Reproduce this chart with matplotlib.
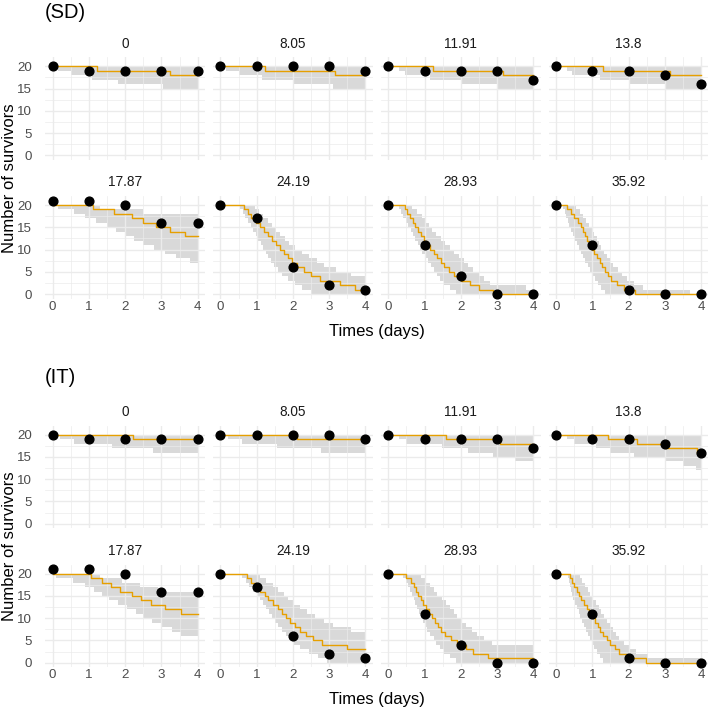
import numpy as np
import matplotlib
matplotlib.use('Agg')
import matplotlib.pyplot as plt

plt.rcParams['font.family'] = ['Liberation Sans', 'DejaVu Sans']

# concentrations (facet labels) and observed survivors at days 0..4
concs = ['0', '8.05', '11.91', '13.8', '17.87', '24.19', '28.93', '35.92']
days = [0, 1, 2, 3, 4]
observed = [
    [20, 19, 19, 19, 19],
    [20, 20, 20, 20, 19],
    [20, 19, 19, 19, 17],
    [20, 19, 19, 18, 16],
    [21, 21, 20, 16, 16],
    [20, 17, 6, 2, 1],
    [20, 11, 4, 0, 0],
    [20, 11, 1, 0, 0],
]

# predicted curves, given as the times (days) at which the count drops by one,
# starting from 20 survivors.  med = median, low/up = 95% band
sd_med = [
    [1.21, 3.24],
    [1.24, 3.17],
    [1.24, 3.17],
    [1.3, 3.14],
    [1.1, 1.7, 2.2, 2.5, 2.85, 3.25, 3.65],
    [0.65, 0.75, 0.85, 0.98, 1.08, 1.2, 1.3, 1.42, 1.52, 1.63, 1.75, 1.85,
     1.97, 2.12, 2.3, 2.5, 2.75, 3.3, 3.7],
    [0.45, 0.52, 0.6, 0.68, 0.75, 0.83, 0.9, 0.98, 1.07, 1.15, 1.25, 1.35,
     1.45, 1.55, 1.68, 1.82, 2.0, 2.25, 2.5, 2.9],
    [0.3, 0.4, 0.5, 0.6, 0.68, 0.74, 0.8, 0.86, 0.92, 0.98, 1.06, 1.13, 1.2,
     1.28, 1.36, 1.44, 1.52, 1.68, 1.88, 2.18],
]
sd_low = [
    [0.15, 0.5, 1.08, 1.8, 3.05],
    [0.15, 0.5, 1.15, 2.0, 3.1],
    [0.3, 0.45, 1.15, 2.0, 3.03],
    [0.3, 0.45, 1.2, 2.0, 3.0],
    [0.15, 0.6, 0.9, 1.2, 1.5, 1.75, 2.0, 2.25, 2.5, 2.8, 3.1, 3.4, 3.8],
    [0.55, 0.62, 0.69, 0.76, 0.83, 0.9, 0.97, 1.04, 1.11, 1.18, 1.25, 1.32,
     1.4, 1.48, 1.58, 1.7, 1.85, 2.05, 2.25, 2.5],
    [0.3, 0.36, 0.42, 0.49, 0.55, 0.62, 0.68, 0.74, 0.81, 0.87, 0.94, 1.02,
     1.1, 1.18, 1.26, 1.34, 1.42, 1.55, 1.7, 1.88],
    [0.2, 0.24, 0.28, 0.33, 0.37, 0.41, 0.46, 0.51, 0.57, 0.63, 0.69, 0.75,
     0.81, 0.87, 0.93, 1.0, 1.08, 1.16, 1.25, 1.35],
]
sd_up = [
    [], [], [], [],
    [1.3, 2.5],
    [0.95, 1.07, 1.18, 1.3, 1.42, 1.53, 1.65, 1.77, 1.9, 2.05, 2.25, 2.45,
     2.65, 2.85, 3.2, 3.6],
    [0.65, 0.78, 0.92, 1.02, 1.12, 1.22, 1.33, 1.45, 1.57, 1.7, 1.82, 1.95,
     2.08, 2.2, 2.35, 2.5, 2.65, 2.8, 3.8],
    [0.55, 0.65, 0.74, 0.83, 0.92, 1.0, 1.06, 1.12, 1.18, 1.25, 1.32, 1.4,
     1.48, 1.58, 1.7, 1.82, 1.97, 2.15, 2.4, 3.7],
]

it_med = [
    [2.22],
    [2.1],
    [1.6, 3.08],
    [1.44, 2.22, 3.0, 3.88],
    [1.05, 1.35, 1.6, 1.85, 2.2, 2.45, 2.7, 3.1, 3.55],
    [0.72, 0.85, 0.97, 1.1, 1.22, 1.32, 1.45, 1.58, 1.7, 1.8, 1.92, 2.05,
     2.2, 2.35, 2.55, 2.8, 3.5],
    [0.5, 0.62, 0.7, 0.77, 0.83, 0.9, 0.97, 1.05, 1.12, 1.2, 1.28, 1.37,
     1.45, 1.57, 1.72, 1.9, 2.15, 2.35, 2.75],
    [0.38, 0.45, 0.5, 0.57, 0.63, 0.7, 0.77, 0.85, 0.92, 1.0, 1.07, 1.15,
     1.22, 1.3, 1.4, 1.5, 1.62, 1.75, 1.95, 2.48],
]
it_low = [
    [0.2, 0.6, 1.63, 2.78],
    [0.2, 0.6, 1.56, 2.76],
    [0.3, 0.5, 1.47, 2.2, 2.9, 3.51],
    [0.3, 0.5, 1.1, 1.5, 2.15, 3.0, 3.5, 3.85],
    [0.1, 0.55, 0.9, 1.15, 1.35, 1.55, 1.8, 2.05, 2.3, 2.5, 2.75, 3.0, 3.3,
     3.55],
    [0.6, 0.7, 0.8, 0.9, 1.0, 1.1, 1.18, 1.27, 1.35, 1.42, 1.5, 1.6, 1.7,
     1.8, 1.9, 2.0, 2.2, 2.45, 2.7, 2.95],
    [0.42, 0.5, 0.55, 0.6, 0.65, 0.7, 0.75, 0.8, 0.85, 0.9, 0.95, 1.0, 1.07,
     1.15, 1.25, 1.32, 1.42, 1.55, 1.7, 1.88],
    [0.32, 0.35, 0.38, 0.41, 0.45, 0.48, 0.52, 0.57, 0.62, 0.67, 0.72, 0.78,
     0.83, 0.88, 0.94, 1.0, 1.05, 1.12, 1.2, 1.3],
]
it_up = [
    [], [], [], [],
    [1.3, 1.9, 2.4, 2.9],
    [1.1, 1.25, 1.45, 1.6, 1.75, 1.87, 2.0, 2.2, 2.4, 2.6, 2.85, 3.1, 3.6],
    [0.9, 1.05, 1.15, 1.25, 1.35, 1.47, 1.6, 1.7, 1.8, 1.9, 2.0, 2.15, 2.3,
     2.45, 2.65, 2.85],
    [0.65, 0.72, 0.8, 0.88, 0.95, 1.02, 1.1, 1.18, 1.25, 1.33, 1.4, 1.5,
     1.57, 1.65, 1.75, 1.87, 2.0, 2.2, 2.55],
]

blocks = [
    ('(SD)', sd_med, sd_low, sd_up, 12.5, [57.2, 195.9]),
    ('(IT)', it_med, it_low, it_up, 378.0, [425.6, 564.6]),
]

W, H = 709, 711
LEFT0, COLSTEP, PW, PH = 45.4, 167.8, 159.5, 102.8
ORANGE = '#E69F00'
BAND = '#D9D9D9'
GRID = '#EBEBEB'


def count_at(drops, t):
    return 20 - np.searchsorted(np.sort(drops), t, side='right')


fig = plt.figure(figsize=(W / 100, H / 100), dpi=100)


def fx(px):
    return px / W


def fy(py):
    return 1 - py / H


for title, med, low, up, title_y, row_tops in blocks:
    fig.text(fx(45), fy(title_y), title, fontsize=14.5, ha='left',
             va='center', color='black')
    for k, conc in enumerate(concs):
        row, col = divmod(k, 4)
        left = LEFT0 + COLSTEP * col
        top = row_tops[row]
        ax = fig.add_axes([fx(left), fy(top + PH), PW / W, PH / H])
        ax.set_xlim(-0.2, 4.2)
        ax.set_ylim(-1.05, 22.05)

        tgrid = np.array(sorted(set([0.0, 4.0] + low[k] + up[k])))
        lo = count_at(low[k], tgrid)
        hi = count_at(up[k], tgrid)
        ax.fill_between(tgrid, lo, hi, step='post', color=BAND, lw=0,
                        zorder=1)

        tm = np.array([0.0] + med[k] + [4.0])
        vm = count_at(med[k], tm)
        ax.step(tm, vm, where='post', color=ORANGE, lw=1.0, zorder=2)

        ax.plot(days, observed[k], 'o', color='black', ms=6.3, zorder=3,
                clip_on=False)

        ax.set_xticks(days)
        ax.set_xticks([0.5, 1.5, 2.5, 3.5], minor=True)
        ax.set_yticks([0, 5, 10, 15, 20])
        ax.set_yticks([2.5, 7.5, 12.5, 17.5], minor=True)
        ax.grid(True, which='major', color=GRID, lw=1.0)
        ax.grid(True, which='minor', color=GRID, lw=0.5)
        ax.set_axisbelow('line')
        for s in ax.spines.values():
            s.set_visible(False)
        ax.tick_params(which='both', length=0, labelsize=9.6,
                       labelcolor='#4D4D4D')
        ax.tick_params(axis='y', pad=9.5)
        ax.tick_params(axis='x', pad=1.5)
        if col != 0:
            ax.set_yticklabels([])
        if row != 1:
            ax.set_xticklabels([])

        fig.text(fx(left + PW / 2), fy(top - 13.5), conc, fontsize=9.8,
                 ha='center', va='center', color='#1A1A1A')

    bottom = row_tops[1] + PH
    fig.text(fx(LEFT0 + (COLSTEP * 3 + PW) / 2), fy(bottom + 32.5),
             'Times (days)', fontsize=12, ha='center', va='center')
    fig.text(fx(9.5), fy((row_tops[0] + bottom) / 2), 'Number of survivors',
             fontsize=12, ha='center', va='center', rotation=90)

fig.savefig('out.png', dpi=100)
